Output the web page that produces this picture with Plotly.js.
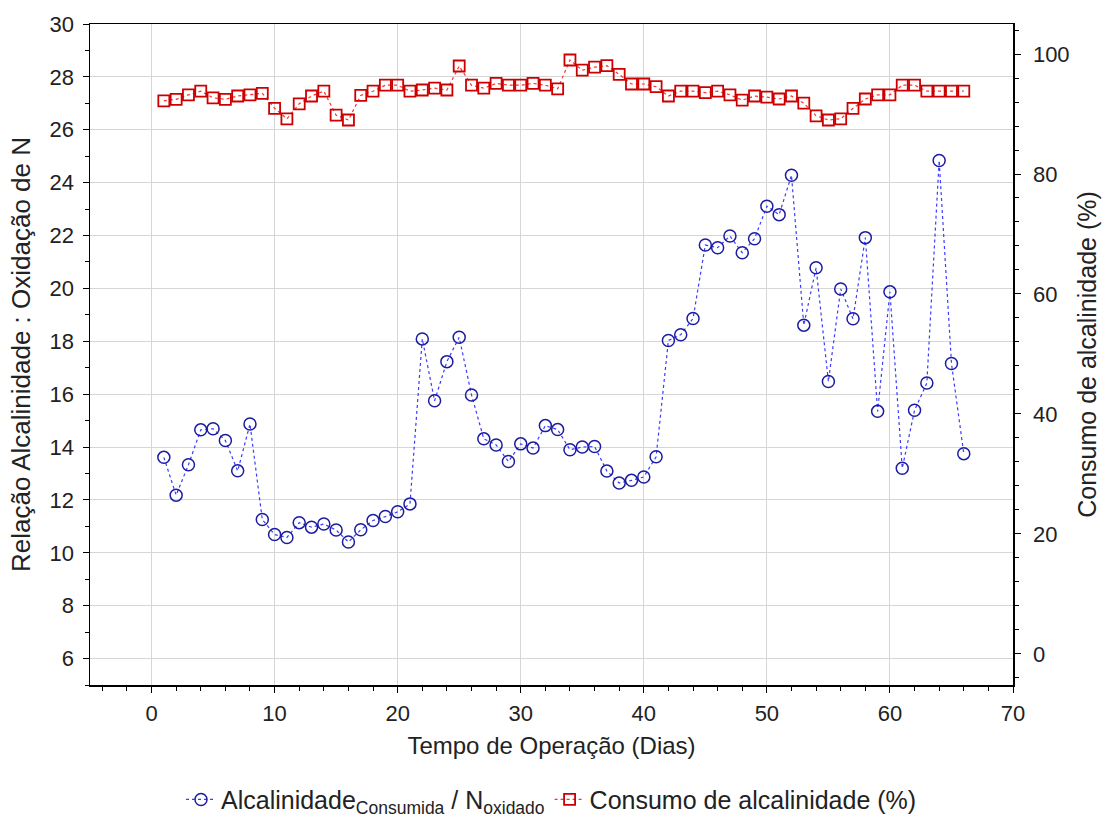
<!DOCTYPE html>
<html><head><meta charset="utf-8">
<script src="https://cdn.plot.ly/plotly-3.0.1.min.js"></script>
<style>body{margin:0;background:#fff}#chart{width:1106px;height:821px}</style>
</head><body><div id="chart"></div>
<script>
const days = [1,2,3,4,5,6,7,8,9,10,11,12,13,14,15,16,17,18,19,20,21,22,23,24,25,26,27,28,29,30,31,32,33,34,35,36,37,38,39,40,41,42,43,44,45,46,47,48,49,50,51,52,53,54,55,56,57,58,59,60,61,62,63,64,65,66];
const ratioAlcN = [13.61,12.18,13.33,14.65,14.69,14.25,13.1,14.87,11.26,10.69,10.58,11.14,10.97,11.09,10.86,10.41,10.87,11.22,11.37,11.55,11.85,18.09,15.75,17.23,18.15,15.97,14.31,14.08,13.45,14.12,13.96,14.81,14.66,13.9,14.0,14.02,13.09,12.64,12.74,12.87,13.63,18.03,18.25,18.86,21.64,21.54,21.98,21.35,21.88,23.11,22.79,24.28,18.61,20.78,16.48,19.98,18.85,21.92,15.35,19.87,13.2,15.39,16.42,24.84,17.16,13.75];
const consumoPct = [92.2,92.45,93.2,93.8,92.7,92.45,93.0,93.2,93.45,90.95,89.2,91.7,93.0,93.8,89.8,89.0,93.1,93.8,94.8,94.8,93.8,94.0,94.3,94.0,98.0,94.8,94.3,95.1,94.8,94.8,95.1,94.8,94.2,99.0,97.3,97.8,98.05,96.6,95.0,95.0,94.55,93.0,93.8,93.8,93.55,93.8,93.2,92.3,93.0,92.8,92.5,93.0,91.8,89.7,89.0,89.2,90.95,92.5,93.2,93.2,94.8,94.8,93.8,93.8,93.8,93.8];

const font = 'Liberation Sans, Arial, sans-serif';
const traces = [
  {x: days, y: ratioAlcN, type:'scatter', mode:'lines+markers', name:'Alcalinidade<sub>Consumida</sub> / N<sub>oxidado</sub>',
   line:{color:'#3a3aff', width:1.2, dash:'dot'},
   marker:{symbol:'circle-open', size:12, color:'#1c1ca0', line:{width:1.5, color:'#1c1ca0'}}},
  {x: days, y: consumoPct, type:'scatter', mode:'lines+markers', name:'Consumo de alcalinidade (%)', yaxis:'y2',
   line:{color:'#ff3030', width:1.2, dash:'dot'},
   marker:{symbol:'square-open', size:11, color:'#cc0000', line:{width:1.8, color:'#cc0000'}}}
];
const layout = {
  width:1106, height:821,
  margin:{l:90, r:93, t:24, b:136, autoexpand:false},
  paper_bgcolor:'#fff', plot_bgcolor:'#fff',
  font:{family:font, size:22, color:'#222'},
  showlegend:true,
  legend:{orientation:'h', x:0.5, xanchor:'center', y:-0.1735, yanchor:'middle', font:{size:25, color:'#222'}, itemwidth:30, tracegroupgap:0},
  xaxis:{range:[-5,70], dtick:10, tick0:0, showgrid:true, gridcolor:'#d6d6d6', gridwidth:1, zeroline:false,
    showline:true, linecolor:'#000', linewidth:1.5, mirror:true, ticks:'outside', ticklen:6, tickcolor:'#000',
    minor:{dtick:2, ticks:'outside', ticklen:4, tickcolor:'#000', showgrid:false},
    ticklabelstandoff:2, automargin:false,
    tickfont:{size:22}, title:{text:'Tempo de Operação (Dias)', font:{size:24}, standoff:12}},
  yaxis:{range:[5,30], dtick:2, tick0:0, showgrid:true, gridcolor:'#d6d6d6', gridwidth:1, zeroline:false,
    showline:true, linecolor:'#000', linewidth:1.5, mirror:true, ticks:'outside', ticklen:6, tickcolor:'#000',
    minor:{dtick:1, ticks:'outside', ticklen:4, tickcolor:'#000', showgrid:false},
    ticklabelstandoff:4, automargin:false,
    tickfont:{size:22}, title:{text:'Relação Alcalinidade : Oxidação de N', font:{size:26}, standoff:11}},
  yaxis2:{overlaying:'y', side:'right', range:[-5.17,105], dtick:20, tick0:0, showgrid:false, zeroline:false,
    showline:true, linecolor:'#000', linewidth:1.5, ticks:'outside', ticklen:6, tickcolor:'#000',
    minor:{dtick:4, ticks:'outside', ticklen:4, tickcolor:'#000', showgrid:false},
    ticklabelstandoff:8, automargin:false,
    tickfont:{size:22}, title:{text:'Consumo de alcalinidade (%)', font:{size:25}, standoff:10}}
};
Plotly.newPlot('chart', traces, layout, {displayModeBar:false, staticPlot:true});
</script></body></html>
